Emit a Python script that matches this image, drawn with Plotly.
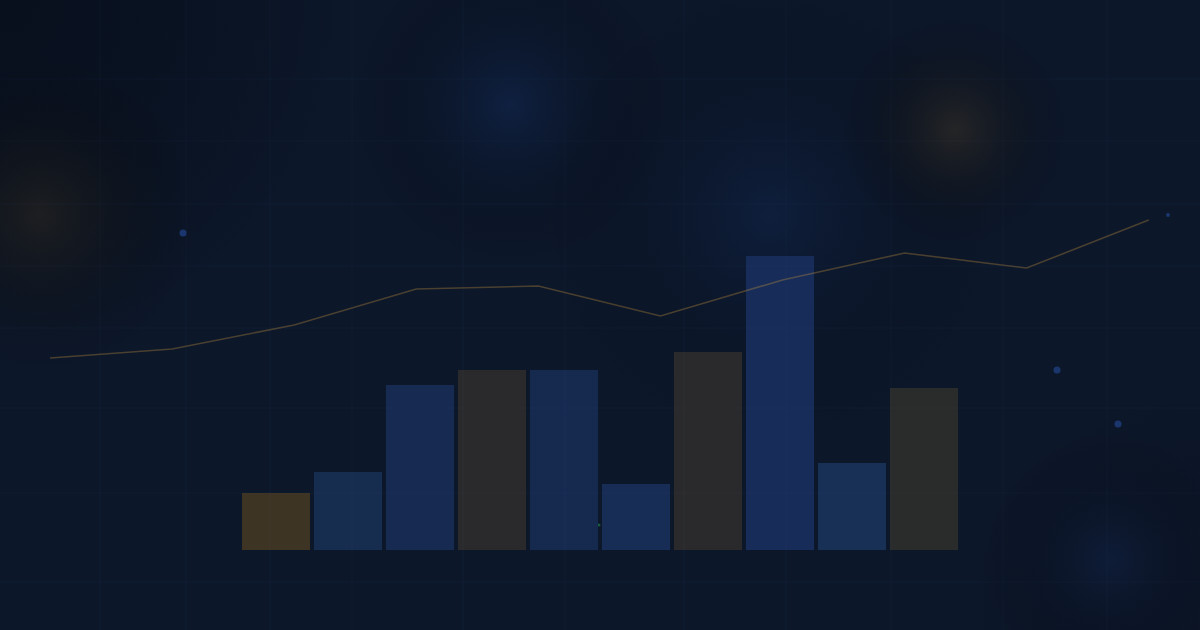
"""
Dark hero-banner chart: bars with a dim trend line over a glowing grid background.
"""

from __future__ import annotations

import plotly.graph_objects as go

# --- data -----------------------------------------------------------------
periods = ["Jan", "Feb", "Mar", "Apr", "May", "Jun", "Jul", "Aug", "Sep", "Oct"]
bar_values = [19, 26, 55, 60, 60, 22, 66, 98, 29, 54]
bar_colors = [
    "#3e3423", "#162d50", "#172a52", "#2a2a2c", "#162a50",
    "#172d55", "#2a2a2c", "#172c58", "#182f56", "#2a2b2b",
]
trend_values = [64, 67, 75, 87, 88, 78, 90, 99, 94, 110]

# decorative sparkles and glows on the full-page (pixel) layer
sparkle_x = [183, 1057, 1118, 1168, 599]
sparkle_y = [233, 370, 424, 215, 525]
sparkle_size = [7, 7, 7, 4, 3]
sparkle_color = ["#22448a", "#22448a", "#22448a", "#22448a", "#1d7a48"]

glow_x = [0, 1200, 510, 770, 955, 40, 1110]
glow_y = [0, 630, 105, 215, 130, 215, 560]
glow_size = [700, 500, 320, 460, 230, 320, 260]
glow_color = [
    "rgba(4,9,18,0.50)",
    "rgba(12,14,30,0.25)",
    "rgba(18,42,88,0.50)",
    "rgba(18,42,88,0.40)",
    "rgba(62,52,36,0.50)",
    "rgba(52,44,30,0.45)",
    "rgba(20,40,82,0.40)",
]

grid_x_px = [100, 186, 270, 352, 463, 565, 684, 786, 891, 1003, 1107]
grid_y_px = [79, 141, 204, 266, 328, 408, 493, 582]

W, H = 1200, 630

fig = go.Figure()

# glows: radial gradient from the glow colour in the centre to transparent
for gx, gy, gs, gc in zip(glow_x, glow_y, glow_size, glow_color):
    fig.add_trace(go.Scatter(
        x=[gx], y=[gy], mode="markers", xaxis="x", yaxis="y",
        marker=dict(size=gs, color="rgba(0,0,0,0)", line=dict(width=0),
                    gradient=dict(type="radial", color=gc)),
        hoverinfo="skip", showlegend=False,
    ))

fig.add_trace(go.Scatter(
    x=sparkle_x, y=sparkle_y, mode="markers", xaxis="x", yaxis="y",
    marker=dict(size=sparkle_size, color=sparkle_color, line=dict(width=0)),
    hoverinfo="skip", showlegend=False,
))

fig.add_trace(go.Bar(
    x=periods, y=bar_values, xaxis="x2", yaxis="y2",
    marker=dict(color=bar_colors, line=dict(width=0)),
    hoverinfo="skip", showlegend=False,
))

fig.add_trace(go.Scatter(
    x=periods, y=trend_values, mode="lines", xaxis="x3", yaxis="y2",
    line=dict(color="rgba(200,150,60,0.33)", width=1.6),
    hoverinfo="skip", showlegend=False,
))

# faint page grid, drawn over everything like the reference
shapes = []
for gx in grid_x_px:
    shapes.append(dict(type="line", xref="paper", yref="paper", x0=gx / W, x1=gx / W,
                       y0=0, y1=1, layer="above",
                       line=dict(color="rgba(70,110,180,0.05)", width=1)))
for gy in grid_y_px:
    shapes.append(dict(type="line", xref="paper", yref="paper", x0=0, x1=1,
                       y0=1 - gy / H, y1=1 - gy / H, layer="above",
                       line=dict(color="rgba(70,110,180,0.06)", width=1)))

hidden = dict(visible=False, showgrid=False, zeroline=False, fixedrange=True)

fig.update_layout(
    width=W, height=H,
    margin=dict(l=0, r=0, t=0, b=0),
    paper_bgcolor="#0c172a",
    plot_bgcolor="rgba(0,0,0,0)",
    bargap=4 / 72,
    shapes=shapes,
    xaxis=dict(domain=[0, 1], range=[0, W], **hidden),
    yaxis=dict(domain=[0, 1], range=[H, 0], **hidden),
    xaxis2=dict(domain=[0.2, 0.8], anchor="y2", type="category", **hidden),
    yaxis2=dict(domain=[80 / H, 1], anchor="x2", range=[0, 550 / 3], **hidden),
    xaxis3=dict(domain=[0, 1], anchor="y2", type="category", range=[-0.41, 9.42], **hidden),
)

fig.write_html(
    "out.html",
    config={"displayModeBar": False},
    post_script="document.body.style.margin='0';document.body.style.overflow='hidden';"
                "document.body.style.background='#0c172a';",
)
